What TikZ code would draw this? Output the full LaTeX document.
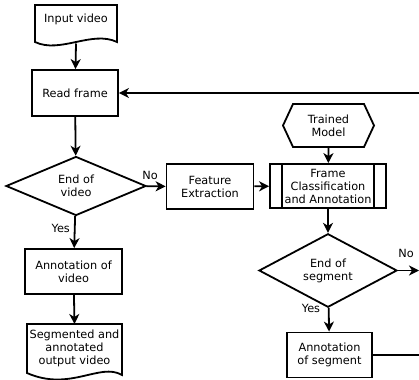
\documentclass[tikz,border=0pt]{standalone}
\usepackage{fontspec}
\setmainfont{DejaVu Sans}
\usetikzlibrary{arrows.meta,shapes.geometric}
\begin{document}
\begin{tikzpicture}[x=1pt,y=-1pt,
  every node/.style={font=\fontsize{11.3}{13}\selectfont, align=center, inner sep=0pt},
  box/.style={draw, line width=1.8pt, minimum width=#1, minimum height=46pt},
  dec/.style={draw, line width=1.8pt, diamond, minimum width=#1},
  shp/.style={line width=1.8pt},
  conn/.style={line width=1.8pt, -{Stealth[length=10pt,width=10pt,inset=3pt]}},
  lbl/.style={font=\fontsize{11.3}{13}\selectfont}]
\useasboundingbox (0,0) rectangle (419,379);
\clip (0,0) rectangle (419,379);
% input video document
\node (in) at (76,19) {Input video};
\draw[shp] (35,5) -- (117,5) -- (117,42) .. controls (92,30) and (60,54) .. (35,42) -- cycle;
\coordinate (inb) at (76,43.5);
% read frame
\node[box=86pt] (rf) at (75,93) {Read frame};
% end of video
\node[dec, minimum width=140pt, minimum height=59pt] (ev) at (76,186) {End of\\video};
% feature extraction
\node[box=87pt, minimum height=45pt] (fe) at (210,186.5) {Feature\\Extraction};
% frame classification
\node[box=116pt, minimum height=44pt] (fc) at (328,186) {Frame\\Classification\\and Annotation};
\draw[shp] (282,164) -- (282,208) (374,164) -- (374,208);
% trained model
\node (tm) at (328.5,125.5) {Trained\\Model};
\draw[shp] (293,104) -- (364,104) -- (374,125.5) -- (364,147) -- (293,147) -- (283,125.5) -- cycle;
\coordinate (tmb) at (328.5,147);
% end of segment
\node[dec, minimum width=138pt, minimum height=69pt] (es) at (328,270.5) {End of\\segment};
% annotation of segment
\node[box=85pt, minimum height=45pt] (as) at (329.5,355) {Annotation\\of segment};
% annotation of video
\node[box=97pt, minimum height=45pt] (av) at (73.5,271.5) {Annotation of\\video};
% output document
\node (out) at (74.5,348) {Segmented and\\annotated\\output video};
\draw[shp] (27,324) -- (122,324) -- (122,375) .. controls (100,362) and (70,392) .. (27,373) -- cycle;
\coordinate (outt) at (74.5,324);
\coordinate (noend) at (419,270.5);
\coordinate (rr) at (440,93);
\coordinate (rb) at (440,355);
% connectors
\draw[conn] (inb) -- (rf);
\draw[conn] (rf) -- (ev);
\draw[conn] (ev) -- node[lbl, pos=0.2, above=6pt] {No} (fe);
\draw[conn] (ev) -- node[lbl, pos=0.4, left=4pt] {Yes} (av);
\draw[conn] (av) -- (outt);
\draw[conn] (fe) -- (fc);
\draw[conn] (tmb) -- (fc);
\draw[conn] (fc) -- (es);
\draw[conn] (es.east) -- (noend);
\node[lbl] (no2) at (406,253) {No};
\draw[conn] (es) -- (as);
\node[lbl] (yes2) at (311,308) {Yes};
\draw[conn] (as.east) -- (rb) -- (rr) -- (rf.east);
\end{tikzpicture}
\end{document}
